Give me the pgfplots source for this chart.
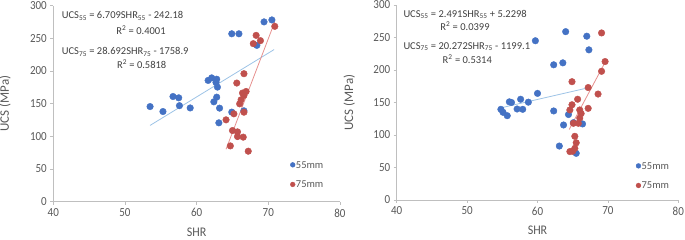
\documentclass[border=0pt]{standalone}
\usepackage{fontspec}
\setmainfont{Carlito}
\usepackage{pgfplots}
\pgfplotsset{compat=1.18}
\definecolor{bl}{HTML}{4472C4}
\definecolor{rd}{HTML}{C0504D}
\definecolor{bll}{HTML}{9DC3E6}
\definecolor{rdl}{HTML}{E6908E}
\definecolor{tx}{HTML}{595959}
\definecolor{eq}{HTML}{404040}
\definecolor{axc}{HTML}{BFBFBF}
\pgfplotsset{
  myax/.style={
    scale only axis,
    xmin=40, xmax=80, ymin=0, ymax=300,
    xtick={40,50,60,70,80}, ytick={0,50,100,150,200,250,300},
    axis x line*=bottom, axis y line*=left,
    axis line style={axc, line width=0.8pt, -},
    tick style={axc, line width=0.8pt},
    major tick length=3pt, tick align=outside,
    tick label style={font=\fontsize{11}{12}\selectfont, text=tx, yscale=1.12},
    /pgf/number format/assume math mode=true,
    xlabel={SHR}, ylabel={UCS (MPa)},
    xlabel style={at={(axis description cs:0.5,-0.155)}, anchor=center, font=\fontsize{12}{13}\selectfont, text=tx, yscale=1.1},
    ylabel style={at={(axis description cs:-0.168,0.5)}, anchor=center, font=\fontsize{13}{14}\selectfont, text=tx},
    legend style={draw=none, fill=none, inner sep=0pt, outer sep=0pt,
      font=\fontsize{10.5}{12}\selectfont, text=tx, anchor=west,
      nodes={inner sep=0.8pt, text height=7pt, text depth=0pt},
      row sep=11pt},
    legend cell align=left,
    legend image code/.code={\draw[#1, mark size=2.4pt] plot coordinates {(0cm,0cm)};},
  },
  bser/.style={only marks, mark=*, mark size=3.3pt, color=bl, mark options={fill=bl, draw=bl}},
  rser/.style={only marks, mark=*, mark size=3.3pt, color=rd, mark options={fill=rd, draw=rd}},
}
\begin{document}
\begin{tikzpicture}
\useasboundingbox (0pt,0pt) rectangle (685pt,240pt);
% ---------- left chart ----------
\begin{axis}[myax, at={(53.3pt,38.3pt)}, anchor=south west, width=286.7pt, height=196pt,
  legend style={at={(axis cs:73.07,41.4)}}]
\addplot[bser] coordinates {
(53.5,145.6) (55.3,138) (56.7,161) (57.5,159) (57.6,147) (59.1,143.5)
(61.6,185.6) (62.1,189.5) (62.8,187.5) (62.7,182.5) (62.9,175.4) (62.8,160)
(62.4,152.9) (63.2,143.2) (63.1,120.7) (64.9,257) (65.9,257) (64.9,137.1)
(66.6,139.1) (68.4,239.3) (69.4,275.2) (70.5,278.2)};
\addlegendentry{55mm}
\addplot[rser] coordinates {
(70.9,268.4) (68.3,254.6) (68.9,246.5) (67.9,241.9) (66.6,195.9) (65.6,181.6)
(66.9,168.7) (66.4,166.3) (66.6,162.6) (66.2,156) (66.0,149.8) (65.2,134.5)
(66.6,137) (64.1,125.3) (65.0,108.9) (65.7,106.9) (65.7,99.7) (66.5,98.8)
(64.7,85.4) (67.2,77.3)};
\addlegendentry{75mm}
\addplot[bll, line width=0.8pt, forget plot] coordinates {(53.5,116.75) (70.8,232.82)};
\addplot[rdl, line width=0.8pt, forget plot] coordinates {(64.1,80.26) (70.9,275.36)};
\end{axis}
% ---------- right chart ----------
\begin{axis}[myax, at={(396.7pt,40pt)}, anchor=south west, width=281.6pt, height=195pt,
  legend style={at={(axis cs:74.0,37.4)}}]
\addplot[bser] coordinates {
(54.8,139.5) (55.1,134.9) (55.7,129.7) (56.0,151) (56.3,150) (57.1,140)
(57.6,155) (57.9,139.5) (58.7,150.5) (60.0,164) (59.7,245) (62.3,208)
(63.6,211) (62.3,137) (64.0,259) (67.0,252) (67.3,231) (64.4,131.5)
(63.7,115.4) (65.1,119) (66.4,117) (63.1,83) (65.5,71.8)};
\addlegendentry{55mm}
\addplot[rser] coordinates {
(69.1,257) (69.6,213) (69.1,198) (64.9,182) (67.2,173) (68.6,163)
(65.7,155) (64.9,146.5) (64.6,138.5) (67.2,141) (66.0,138.5) (66.2,133)
(66.0,126) (65.1,118) (65.8,118) (65.3,98) (65.5,88) (65.3,79.5)
(64.6,74.5) (65.0,75)};
\addlegendentry{75mm}
\addplot[bll, line width=0.8pt, forget plot] coordinates {(54.8,141.74) (67.3,172.88)};
\addplot[rdl, line width=0.8pt, forget plot] coordinates {(64.5,108.44) (69.6,211.83)};
\end{axis}
% ---------- equations ----------
\begin{scope}[every node/.style={font=\fontsize{10.5}{12}\selectfont, text=eq, inner sep=0pt}]
\node[anchor=west] at (61.7pt,224pt) {UCS\textsubscript{55} = 6.709SHR\textsubscript{55} - 242.18};
\node at (141pt,210pt) {R\textsuperscript{2} = 0.4001};
\node[anchor=west] at (61.7pt,188.3pt) {UCS\textsubscript{75} = 28.692SHR\textsubscript{75} - 1758.9};
\node at (141.7pt,175.7pt) {R\textsuperscript{2} = 0.5818};
\node[anchor=west] at (403.3pt,225.5pt) {UCS\textsubscript{55} = 2.491SHR\textsubscript{55} + 5.2298};
\node at (465pt,213.5pt) {R\textsuperscript{2} = 0.0399};
\node[anchor=west] at (403.3pt,193.3pt) {UCS\textsubscript{75} = 20.272SHR\textsubscript{75} - 1199.1};
\node at (467.3pt,180.7pt) {R\textsuperscript{2} = 0.5314};
\end{scope}
\end{tikzpicture}
\end{document}
